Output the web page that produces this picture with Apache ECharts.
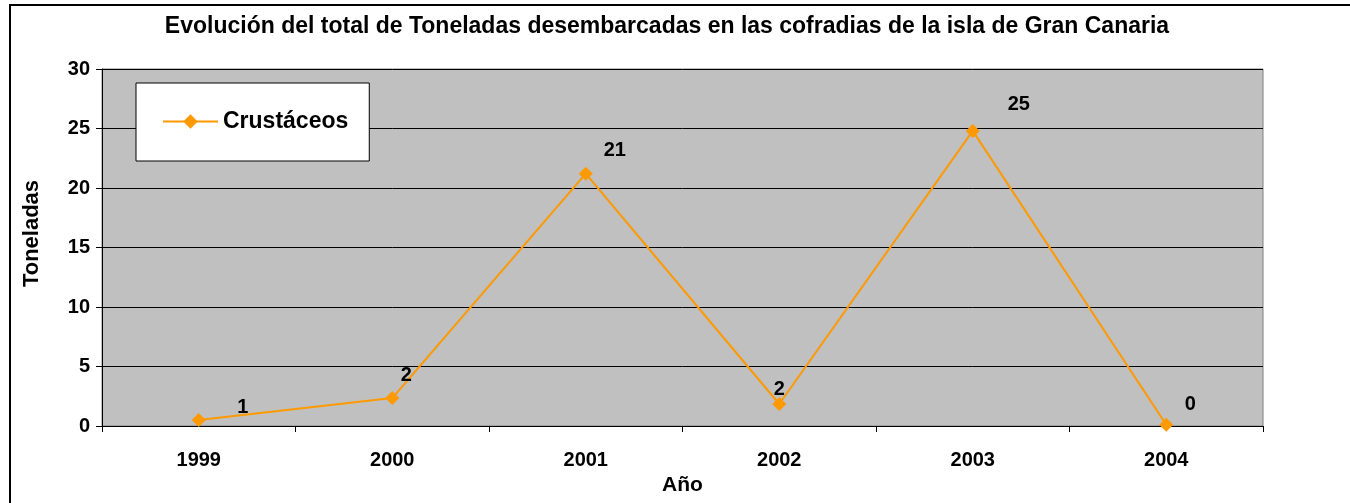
<!DOCTYPE html>
<html>
<head>
<meta charset="utf-8">
<script src="https://cdn.jsdelivr.net/npm/echarts@6/dist/echarts.min.js"></script>
<style>
  html, body { margin: 0; padding: 0; background: #fff; }
  #frame {
    position: absolute; left: 9px; top: 4px; width: 1400px; height: 520px;
    border-top: 2px solid #000; border-left: 2px solid #000;
  }
  #chart { position: absolute; left: 0; top: 0; width: 1350px; height: 503px; }
</style>
</head>
<body>
<div id="frame"></div>
<div id="chart"></div>
<script>
// datos
const years = ['1999', '2000', '2001', '2002', '2003', '2004'];
const crustaceos = [0.5, 2.35, 21.2, 1.85, 24.8, 0.1];
// desplazamiento de cada etiqueta respecto a su punto (solo estilo)
const labelNudge = [[44, -13], [14, -23], [29, -23], [0, -15], [46, -26], [24, -20]];

const FONT = 'Liberation Sans, Arial, sans-serif';
const chart = echarts.init(document.getElementById('chart'));

const option = {
  animation: false,
  title: {
    text: 'Evolución del total de Toneladas desembarcadas en las cofradias de la isla de Gran Canaria',
    left: 662,
    top: 10,
    textAlign: 'center',
    textStyle: { fontFamily: FONT, fontSize: 23, fontWeight: 'bold', color: '#000' }
  },
  legend: {
    left: 136,
    top: 83,
    padding: [27, 21, 28, 26],
    backgroundColor: '#fff',
    borderColor: '#000',
    borderWidth: 1,
    itemWidth: 55,
    itemHeight: 18,
    itemGap: 5,
    textStyle: { fontFamily: FONT, fontSize: 23, fontWeight: 'bold', color: '#000' },
    data: ['Crustáceos']
  },
  grid: {
    left: 102, right: 87, top: 69, bottom: 77,
    outerBoundsMode: 'none',
    containLabel: false,
    show: true,
    backgroundColor: '#c0c0c0',
    borderColor: '#808080',
    borderWidth: 1
  },
  xAxis: {
    type: 'category',
    data: years,
    boundaryGap: true,
    name: 'Año',
    nameLocation: 'middle',
    nameGap: 49,
    nameTextStyle: { fontFamily: FONT, fontSize: 21, fontWeight: 'bold', color: '#000' },
    axisLine: { lineStyle: { color: '#000', width: 1 } },
    axisTick: { show: true, length: 6, lineStyle: { color: '#000' } },
    axisLabel: { margin: 24, fontFamily: FONT, fontSize: 20, fontWeight: 'bold', color: '#000' },
    splitLine: { show: false }
  },
  yAxis: {
    type: 'value',
    min: 0,
    max: 30,
    interval: 5,
    name: 'Toneladas',
    nameLocation: 'middle',
    nameGap: 59,
    nameTextStyle: { fontFamily: FONT, fontSize: 22, fontWeight: 'bold', color: '#000', padding: [0, 0, 0, 28] },
    axisLine: { show: true, lineStyle: { color: '#000', width: 1 } },
    axisTick: { show: true, length: 6, lineStyle: { color: '#000' } },
    axisLabel: { margin: 12, fontFamily: FONT, fontSize: 20, fontWeight: 'bold', color: '#000' },
    splitLine: { show: true, lineStyle: { color: '#000', width: 1 } }
  },
  series: [{
    name: 'Crustáceos',
    type: 'line',
    data: crustaceos.map((v, i) => ({
      value: v,
      label: { offset: labelNudge[i] }
    })),
    symbol: 'diamond',
    symbolSize: 14,
    itemStyle: { color: '#ff9900' },
    lineStyle: { color: '#ff9900', width: 2 },
    label: {
      show: true,
      position: 'inside',
      fontFamily: FONT,
      fontSize: 20,
      fontWeight: 'bold',
      color: '#000',
      formatter: p => Math.round(p.value)
    }
  }]
};

chart.setOption(option);
</script>
</body>
</html>
